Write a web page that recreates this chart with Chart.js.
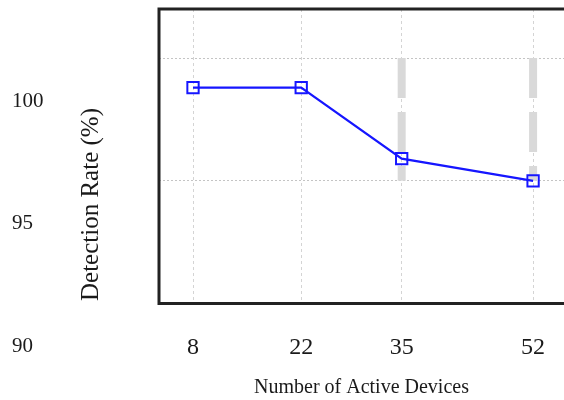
<!DOCTYPE html>
<html>
<head>
<meta charset="utf-8">
<script src="https://cdn.jsdelivr.net/npm/chart.js@4.4.1/dist/chart.umd.min.js"></script>
<style>
  body { margin: 0; background: #fff; }
</style>
</head>
<body>
<canvas id="myChart" width="564" height="400"></canvas>
<script>
'use strict'

// valeurs
const devices = [8, 22, 35, 52];
const detectionRate = [98.8, 98.8, 95.9, 95.0];
const rangeX = [35, 52];
const rangeTop = [100, 100];
const rangeBottom = [95, 95];
const yTicks = [90, 95, 100];

const serif = 'Liberation Serif, Times New Roman, serif';

// cadre noir autour de la zone du graphique
const framePlugin = {
  id: 'frame',
  afterDraw(chart) {
    const a = chart.chartArea;
    const c = chart.ctx;
    c.save();
    c.strokeStyle = '#222';
    c.lineWidth = 3;
    c.beginPath();
    c.moveTo(a.right + 5, a.top);
    c.lineTo(a.left, a.top);
    c.lineTo(a.left, a.bottom);
    c.lineTo(a.right + 5, a.bottom);
    c.stroke();
    c.restore();
  }
};

let datasets = [{
  label: 'Detection Rate',
  data: devices.map((d, i) => ({x: d, y: detectionRate[i]})),
  borderColor: '#1616ff',
  borderWidth: 2.2,
  pointStyle: 'rect',
  pointRadius: 8,
  pointBorderWidth: 2,
  pointBorderColor: '#1616ff',
  pointBackgroundColor: 'rgba(0,0,0,0)',
  tension: 0
}];

for (let i = 0; i < rangeX.length; i++) {
  datasets.push({
    label: 'range ' + i,
    data: [{x: rangeX[i], y: rangeTop[i]}, {x: rangeX[i], y: rangeBottom[i]}],
    borderColor: '#d9d9d9',
    borderWidth: 8,
    borderDash: [40, 14],
    borderCapStyle: 'butt',
    pointRadius: 0
  });
}

let ctx = document.getElementById('myChart');

new Chart(ctx, {
  type: 'line',
  data: { datasets: datasets },
  plugins: [framePlugin],
  options: {
    responsive: false,
    animation: false,
    layout: { autoPadding: false, padding: { left: 12, top: 9, right: 0, bottom: 0 } },
    plugins: {
      legend: { display: false },
      tooltip: { enabled: false },
      title: {
        display: true,
        text: 'Detection Rate (%)',
        position: 'left',
        color: '#1a1a1a',
        font: { family: serif, size: 25, weight: 'normal' },
        padding: { top: 0, bottom: 53 }
      }
    },
    scales: {
      x: {
        type: 'linear',
        min: 3.6,
        max: 56,
        afterBuildTicks: (s) => { s.ticks = devices.map(v => ({value: v})); },
        afterFit: (s) => {
          s.height = 96.5;
          s.paddingLeft = 0;
          s.paddingRight = 0;
        },
        grid: { color: '#d4d4d4', drawTicks: false },
        border: { display: false, dash: [3, 3] },
        ticks: {
          color: '#1a1a1a',
          font: { family: serif, size: 24 },
          padding: 30
        },
        title: {
          display: true,
          text: 'Number of Active Devices',
          color: '#1a1a1a',
          font: { family: serif, size: 20 },
          padding: { top: 0, bottom: 0 }
        }
      },
      y: {
        min: 90,
        max: 102,
        weight: 3000,
        afterBuildTicks: (s) => { s.ticks = yTicks.map(v => ({value: v})); },
        afterFit: (s) => {
          s.width = 64;
          s.paddingTop = 0;
          s.paddingBottom = 0;
        },
        grid: { color: '#c4c4c4', drawTicks: false },
        border: { display: false, dash: [2, 2] },
        ticks: {
          color: '#1a1a1a',
          font: { family: serif, size: 21 },
          crossAlign: 'far',
          labelOffset: 43
        }
      }
    }
  }
});
</script>
</body>
</html>
